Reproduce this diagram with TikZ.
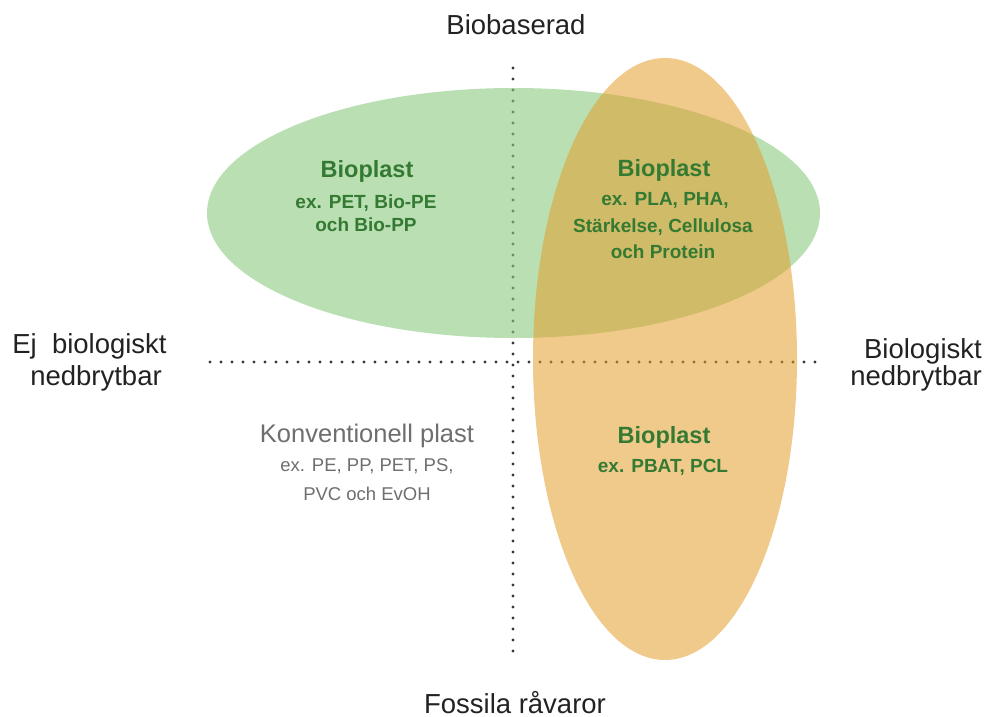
\documentclass[tikz,border=0pt]{standalone}
\usepackage{fontspec}
\setmainfont{Liberation Sans}
\definecolor{greenfill}{RGB}{138,202,128}
\definecolor{orangefill}{RGB}{228,158,44}
\definecolor{labeltext}{RGB}{34,34,34}
\definecolor{bioplasttext}{RGB}{52,122,50}
\definecolor{graytext}{RGB}{110,110,110}
\definecolor{dotcol}{RGB}{55,55,55}
\tikzset{
  axisline/.style={draw=dotcol, line width=3.2pt, dash pattern=on 0pt off 11pt, line cap=round},
  axislabel/.style={anchor=base, text=labeltext, font=\fontsize{27.5}{33}\selectfont, inner sep=0pt},
  biohead/.style={anchor=base, text=bioplasttext, font=\bfseries\fontsize{23.5}{28}\selectfont, inner sep=0pt},
  biosub/.style={anchor=base, text=bioplasttext, font=\bfseries\fontsize{19}{23}\selectfont, inner sep=0pt},
  convhead/.style={anchor=base, text=graytext, font=\fontsize{25.5}{30}\selectfont, inner sep=0pt},
  convsub/.style={anchor=base, text=graytext, font=\fontsize{18.5}{23}\selectfont, inner sep=0pt},
}
\begin{document}
\begin{tikzpicture}[x=1pt,y=-1pt]
\useasboundingbox (0,0) rectangle (988,717);
% axes
\coordinate (vtop) at (513,68);
\coordinate (vbot) at (513,660);
\coordinate (hleft) at (210,362);
\coordinate (hright) at (820,362);
\draw[axisline] (vtop) -- (vbot);
\draw[axisline] (hleft) -- (hright);
% ellipses
\fill[greenfill, fill opacity=0.6] (513.5,213) ellipse [x radius=306.5pt, y radius=125pt];
\fill[orangefill, fill opacity=0.55] (665,359) ellipse [x radius=132pt, y radius=301pt];
% axis labels
\node[axislabel] (biobaserad) at (516,35) {Biobaserad};
\node[axislabel] (fossila) at (515,713) {Fossila råvaror};
\node[axislabel] (ej1) at (89.5,353) {Ej\ \ biologiskt};
\node[axislabel] (ej2) at (96,385) {nedbrytbar};
\node[axislabel, anchor=base east] (bio1) at (982,358) {Biologiskt};
\node[axislabel, anchor=base east] (bio2) at (982,385) {nedbrytbar};
% top-left
\node[biohead] (tlhead) at (367,177) {Bioplast};
\node[biosub] (tl1) at (366,208) {ex. PET, Bio-PE};
\node[biosub] (tl2) at (366,231) {och Bio-PP};
% top-right
\node[biohead] (trhead) at (664,176) {Bioplast};
\node[biosub] (tr1) at (665,205) {ex. PLA, PHA,};
\node[biosub] (tr2) at (663,232) {Stärkelse, Cellulosa};
\node[biosub] (tr3) at (663,258) {och Protein};
% bottom-right
\node[biohead] (brhead) at (664,443) {Bioplast};
\node[biosub] (br1) at (663,472) {ex. PBAT, PCL};
% bottom-left
\node[convhead] (blhead) at (367,442) {Konventionell plast};
\node[convsub] (bl1) at (367,471) {ex. PE, PP, PET, PS,};
\node[convsub] (bl2) at (367,500) {PVC och EvOH};
\end{tikzpicture}
\end{document}
